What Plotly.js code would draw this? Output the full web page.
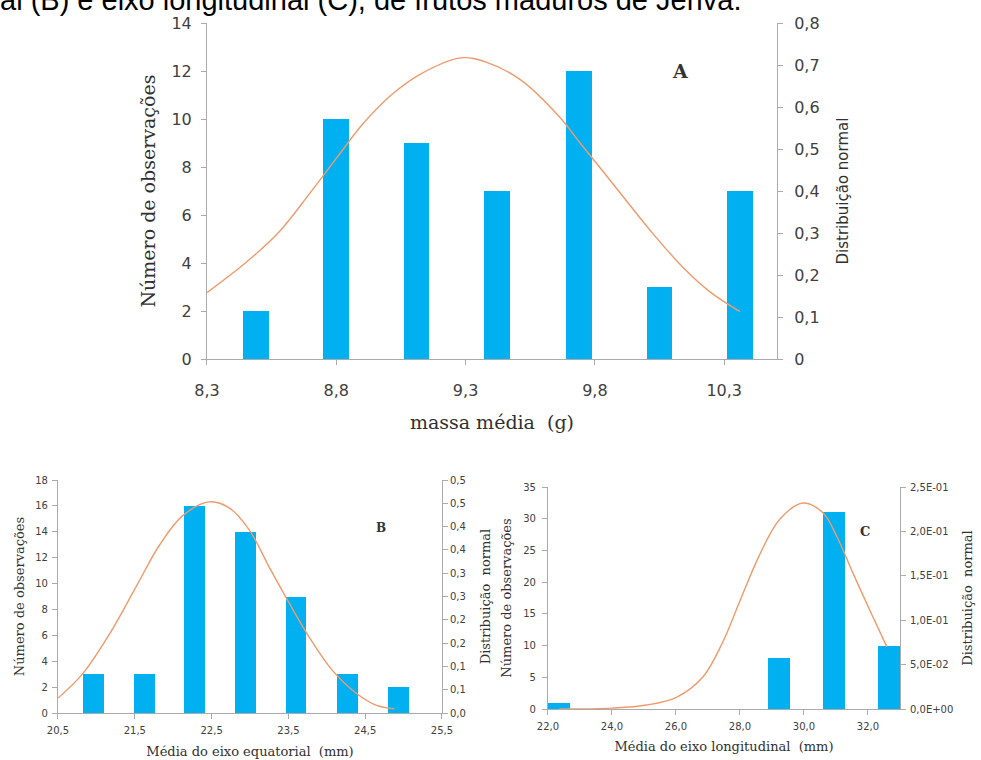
<!DOCTYPE html>
<html><head><meta charset="utf-8">
<script src="https://cdn.plot.ly/plotly-3.0.1.min.js"></script>
<style>html,body{margin:0;padding:0;background:#fff;overflow:hidden}#chart{width:981px;height:760px}</style>
</head><body><div id="chart"></div>
<script>
// ---- Chart A: massa média (g)
const binsA = [8.49, 8.80, 9.11, 9.42, 9.74, 10.05, 10.36];
const countsA = [2, 10, 9, 7, 12, 3, 7];
const curveAx = [8.300, 8.455, 8.582, 8.698, 8.803, 8.903, 9.019, 9.124, 9.282, 9.379, 9.514, 9.665, 9.742, 9.831, 9.924, 10.025, 10.141, 10.245, 10.361];
const curveAy = [0.158, 0.232, 0.305, 0.395, 0.480, 0.560, 0.632, 0.678, 0.717, 0.707, 0.664, 0.575, 0.515, 0.447, 0.375, 0.298, 0.218, 0.160, 0.113];
const rightTickValsA = [0, 0.1, 0.2, 0.3, 0.4, 0.5, 0.6, 0.7, 0.8];
const rightTickTextA = ['0', '0,1', '0,2', '0,3', '0,4', '0,5', '0,6', '0,7', '0,8'];

// ---- Chart B: eixo equatorial (mm)
const binsB = [20.96, 21.63, 22.28, 22.94, 23.60, 24.27, 24.93];
const countsB = [3, 3, 16, 14, 9, 3, 2];
const curveBx = [20.50, 20.82, 21.18, 21.53, 21.82, 22.12, 22.47, 22.73, 22.99, 23.25, 23.51, 23.77, 24.07, 24.38, 24.64, 24.88];
const curveBy = [0.032, 0.084, 0.172, 0.275, 0.360, 0.423, 0.453, 0.440, 0.393, 0.313, 0.236, 0.163, 0.092, 0.043, 0.017, 0.009];
const rightTickValsB = [0, 0.05, 0.1, 0.15, 0.2, 0.25, 0.3, 0.35, 0.4, 0.45, 0.5];
const rightTickTextB = ['0,0', '0,1', '0,1', '0,2', '0,2', '0,3', '0,3', '0,4', '0,4', '0,5', '0,5'];

// ---- Chart C: eixo longitudinal (mm)
const binsC = [22.35, 24.07, 25.79, 27.51, 29.23, 30.95, 32.67];
const countsC = [1, 0, 0, 0, 8, 31, 10];
const curveCx = [22.35, 24.00, 25.09, 26.03, 26.84, 27.47, 28.00, 28.63, 29.25, 29.97, 30.59, 31.03, 31.53, 32.06, 32.59];
const curveCy = [0.000, 0.001, 0.0045, 0.0135, 0.036, 0.076, 0.122, 0.175, 0.214, 0.232, 0.221, 0.194, 0.153, 0.111, 0.070];
const rightTickValsC = [0, 0.05, 0.10, 0.15, 0.20, 0.25];
const rightTickTextC = ['0,0E+00', '5,0E-02', '1,0E-01', '1,5E-01', '2,0E-01', '2,5E-01'];

const captionText = 'al (B) e eixo longitudinal (C), de frutos maduros de Jerivá.';

const BAR = '#00B0F0';
const LINE = '#F09A6C';
const AX = '#ABABAB';
const TXT = '#404040';

function bar(x, y, w, xa, ya) {
  return {type: 'bar', x: x, y: y, width: w, xaxis: xa, yaxis: ya,
          marker: {color: BAR, line: {width: 0}}, showlegend: false, hoverinfo: 'skip'};
}
function curve(x, y, xa, ya) {
  return {type: 'scatter', mode: 'lines', x: x, y: y, xaxis: xa, yaxis: ya,
          line: {color: LINE, width: 1.4, shape: 'spline', smoothing: 1},
          showlegend: false, hoverinfo: 'skip'};
}

const traces = [
  bar(binsA, countsA, 0.1, 'x', 'y'),
  curve(curveAx, curveAy, 'x', 'y2'),
  bar(binsB, countsB, 0.27, 'x2', 'y3'),
  curve(curveBx, curveBy, 'x2', 'y4'),
  bar(binsC, countsC, 0.69, 'x3', 'y5'),
  curve(curveCx, curveCy, 'x3', 'y6')
];

function ax(extra) {
  return Object.assign({showline: true, linecolor: AX, linewidth: 1, ticks: 'outside', ticklen: 5,
    tickcolor: AX, showgrid: false, zeroline: false, fixedrange: true, automargin: false}, extra);
}
const tickBig = {family: 'DejaVu Sans', size: 16, color: TXT};
const tickSmall = {family: 'DejaVu Sans', size: 10, color: TXT};
const serifSmall = {family: 'DejaVu Serif', size: 13, color: '#303030'};

const layout = {
  width: 981, height: 760,
  margin: {l: 0, r: 0, t: 0, b: 0},
  paper_bgcolor: '#ffffff', plot_bgcolor: 'rgba(0,0,0,0)',
  separators: ', ',
  bargap: 0,
  showlegend: false,
  // Chart A
  xaxis: ax({domain: [0.2110, 0.7920], range: [8.3, 10.504], anchor: 'y', tickmode: 'linear', tick0: 8.3, dtick: 0.5,
    tickformat: '.1f', tickfont: tickBig, ticklabelstandoff: 12,
    title: {text: 'massa média  (g)', font: {family: 'DejaVu Serif', size: 19, color: '#303030'}, standoff: 16}}),
  yaxis: ax({domain: [0.5276, 0.9697], range: [0, 14], anchor: 'x', tickmode: 'linear', tick0: 0, dtick: 2,
    tickfont: tickBig, ticklabelstandoff: 6,
    title: {text: 'Número de observações', font: {family: 'DejaVu Serif', size: 19, color: '#303030'}, standoff: 10}}),
  yaxis2: ax({overlaying: 'y', side: 'right', anchor: 'x', range: [0, 0.8], tickmode: 'array',
    tickvals: rightTickValsA, ticktext: rightTickTextA, tickfont: tickBig, ticklabelstandoff: 8,
    title: {text: 'Distribuição normal', font: {family: 'DejaVu Sans', size: 15, color: '#303030'}, standoff: 18}}),
  // Chart B
  xaxis2: ax({domain: [0.05912, 0.45056], range: [20.5, 25.5], anchor: 'y3', tickmode: 'linear', tick0: 20.5, dtick: 1,
    tickformat: '.1f', tickfont: tickSmall, ticklabelstandoff: 3,
    title: {text: 'Média do eixo equatorial  (mm)', font: serifSmall, standoff: 11}}),
  yaxis3: ax({domain: [0.06184, 0.36842], range: [0, 18], anchor: 'x2', tickmode: 'linear', tick0: 0, dtick: 2,
    tickfont: tickSmall, ticklabelstandoff: 2,
    title: {text: 'Número de observações', font: serifSmall, standoff: 7}}),
  yaxis4: ax({overlaying: 'y3', side: 'right', anchor: 'x2', range: [0, 0.5], tickmode: 'array',
    tickvals: rightTickValsB, ticktext: rightTickTextB, tickfont: tickSmall,
    title: {text: 'Distribuição  normal', font: serifSmall, standoff: 15}}),
  // Chart C
  xaxis3: ax({domain: [0.55861, 0.91743], range: [22, 33], anchor: 'y5', tickmode: 'linear', tick0: 22, dtick: 2,
    tickformat: '.1f', tickfont: tickSmall, ticklabelstandoff: 3,
    title: {text: 'Média do eixo longitudinal  (mm)', font: serifSmall, standoff: 10}}),
  yaxis5: ax({domain: [0.06711, 0.35921], range: [0, 35], anchor: 'x3', tickmode: 'linear', tick0: 0, dtick: 5,
    tickfont: tickSmall, ticklabelstandoff: 4,
    title: {text: 'Número de observações', font: serifSmall, standoff: 8}}),
  yaxis6: ax({overlaying: 'y5', side: 'right', anchor: 'x3', range: [0, 0.25], tickmode: 'array',
    tickvals: rightTickValsC, ticktext: rightTickTextC, tickfont: tickSmall, ticklabelstandoff: 2,
    title: {text: 'Distribuição  normal', font: serifSmall, standoff: 10}}),
  annotations: [
    {xref: 'paper', yref: 'paper', x: -0.002, y: 1, xanchor: 'left', yanchor: 'middle', yshift: 0,
     text: captionText, showarrow: false, font: {family: 'Liberation Sans', size: 29, color: '#000000'}},
    {xref: 'x', yref: 'y', x: 10.13, y: 12.0, text: '<b>A</b>', showarrow: false,
     font: {family: 'DejaVu Serif', size: 19, color: '#333333'}},
    {xref: 'x2', yref: 'y3', x: 24.7, y: 14.3, text: '<b>B</b>', showarrow: false,
     font: {family: 'DejaVu Serif', size: 12, color: '#333333'}},
    {xref: 'x3', yref: 'y5', x: 31.9, y: 28.0, text: '<b>C</b>', showarrow: false,
     font: {family: 'DejaVu Serif', size: 13, color: '#333333'}}
  ]
};

Plotly.newPlot('chart', traces, layout, {displayModeBar: false, staticPlot: true});
</script>
</body></html>
